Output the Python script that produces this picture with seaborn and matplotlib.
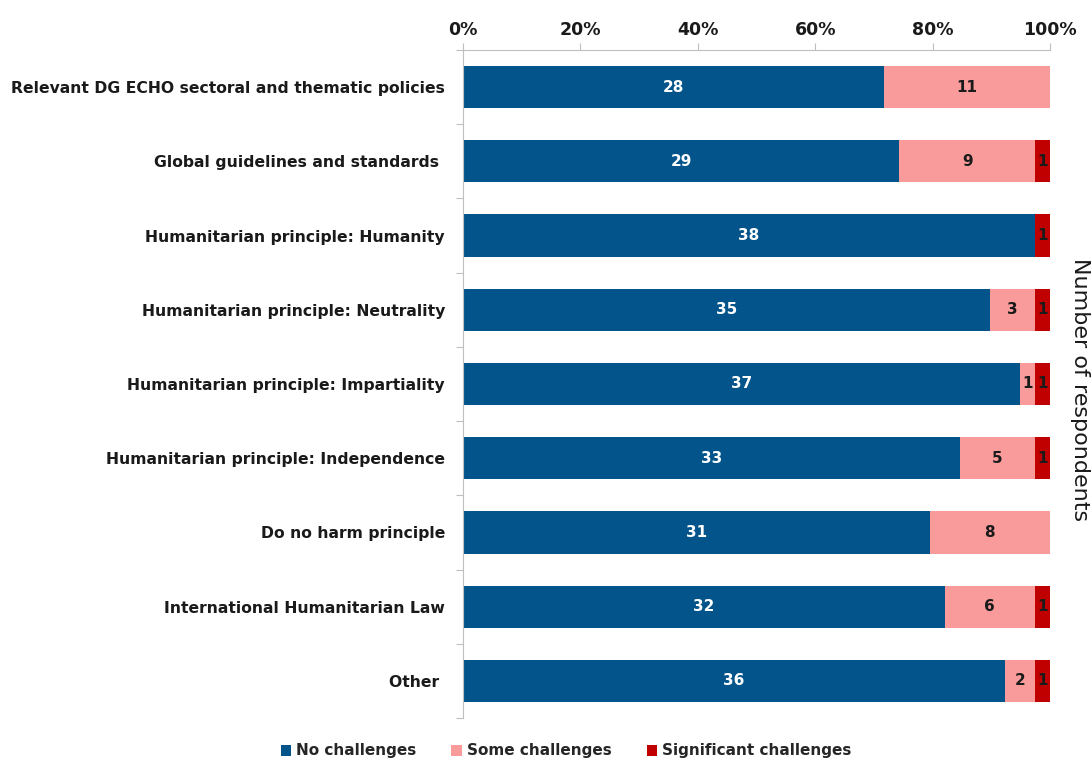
import matplotlib
matplotlib.use("Agg")
import matplotlib.pyplot as plt
from matplotlib.ticker import FixedLocator, PercentFormatter
from matplotlib.patches import Patch
import numpy as np
import pandas as pd
import seaborn as sns

categories = [
    "Relevant DG ECHO sectoral and thematic policies",
    "Global guidelines and standards ",
    "Humanitarian principle: Humanity",
    "Humanitarian principle: Neutrality",
    "Humanitarian principle: Impartiality",
    "Humanitarian principle: Independence",
    "Do no harm principle",
    "International Humanitarian Law",
    "Other ",
]
no_challenges = [28, 29, 38, 35, 37, 33, 31, 32, 36]
some_challenges = [11, 9, 0, 3, 1, 5, 8, 6, 2]
significant_challenges = [0, 1, 1, 1, 1, 1, 0, 1, 1]
series_names = ["No challenges", "Some challenges", "Significant challenges"]
colors = ["#02548A", "#F99B9B", "#C00000"]
x_ticks = [0, 20, 40, 60, 80, 100]

sns.set_theme(style="white")
plt.rcParams["font.family"] = ["DejaVu Sans"]

no = np.array(no_challenges, float)
some = np.array(some_challenges, float)
sig = np.array(significant_challenges, float)
total = no + some + sig
p_no = no / total * 100
p_some = some / total * 100
p_sig = sig / total * 100

df = pd.DataFrame({
    "category": categories,
    "c1": p_no,
    "c2": p_no + p_some,
    "c3": p_no + p_some + p_sig,
})

fig = plt.figure(figsize=(10.92, 7.6), dpi=100)
ax = fig.add_axes([463 / 1092, 1 - 718 / 760, 587 / 1092, 668 / 760])

# stacked bars: draw cumulative totals back to front
for col, color in zip(["c3", "c2", "c1"], colors[::-1]):
    sns.barplot(data=df, x=col, y="category", orient="h", color=color,
                width=0.57, saturation=1, ax=ax, edgecolor="none")

# segment value labels
for i in range(len(categories)):
    starts = [0, p_no[i], p_no[i] + p_some[i]]
    widths = [p_no[i], p_some[i], p_sig[i]]
    vals = [no[i], some[i], sig[i]]
    for k in range(3):
        if vals[k] > 0:
            ax.text(starts[k] + widths[k] / 2, i, f"{int(vals[k])}",
                    ha="center", va="center", fontsize=11, fontweight="bold",
                    color="white" if k == 0 else "#1a1a1a")

ax.set_xlim(0, 100)
ax.set_ylim(len(categories) - 0.5, -0.5)
ax.set_xlabel("")
ax.set_ylabel("")

ax.xaxis.set_ticks_position("top")
ax.xaxis.set_label_position("top")
ax.xaxis.set_major_locator(FixedLocator(x_ticks))
ax.xaxis.set_major_formatter(PercentFormatter(decimals=0))
ax.tick_params(axis="x", which="major", top=True, bottom=False, length=5,
               width=0.8, color="#BFBFBF", labelsize=12.5, pad=3,
               labelcolor="#1a1a1a")
for lab in ax.get_xticklabels():
    lab.set_fontweight("bold")

ax.set_yticks(range(len(categories)))
ax.set_yticklabels(categories, fontsize=11.25, fontweight="bold", color="#1a1a1a")
ax.yaxis.set_minor_locator(FixedLocator(np.arange(-0.5, len(categories), 1)))
ax.tick_params(axis="y", which="major", length=0, pad=13)
ax.tick_params(axis="y", which="minor", left=True, length=5, width=0.8,
               color="#BFBFBF")

for side in ["right", "bottom"]:
    ax.spines[side].set_visible(False)
for side in ["top", "left"]:
    ax.spines[side].set_color("#BFBFBF")
    ax.spines[side].set_linewidth(0.8)

fig.text(1080 / 1092, 1 - 390 / 760, "Number of respondents", rotation=270,
         ha="center", va="center", fontsize=16, color="#1a1a1a")

handles = [Patch(facecolor=c, edgecolor="none") for c in colors]
fig.legend(handles, series_names, loc="center", bbox_to_anchor=(566 / 1092, 1 - 751 / 760),
           ncol=3, frameon=False, handlelength=0.7, handleheight=0.7,
           handletextpad=0.3, columnspacing=2.3, prop={"size": 11, "weight": "bold"})

fig.savefig("out.png", dpi=100, facecolor="white")
